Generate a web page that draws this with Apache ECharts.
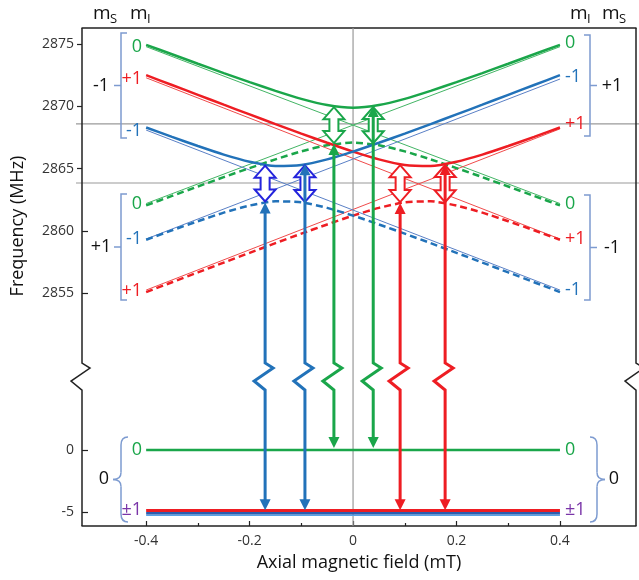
<!DOCTYPE html>
<html>
<head>
<meta charset="utf-8">
<script src="https://cdn.jsdelivr.net/npm/echarts@6/dist/echarts.min.js"></script>
<style>
  html, body { margin: 0; padding: 0; background: #fff; }
  #chart { width: 639px; height: 580px; }
</style>
</head>
<body>
<div id="chart"></div>
<script>
// ---- data ----
// uncoupled (thin) levels, frequency in MHz at x = -0.4 and x = +0.4 mT
var xEnds = [-0.4, 0.4];
var g0Minus = [2874.8, 2862.2];   // mS=-1, mI=0
var g0Plus = [2862.2, 2874.8];    // mS=+1, mI=0
var rMinus = [2872.3, 2859.35];   // mS=-1, mI=+1
var rPlus = [2855.25, 2868.2];    // mS=+1, mI=+1
var bMinus = [2868.1, 2855.25];   // mS=-1, mI=-1
var bPlus = [2859.35, 2872.2];    // mS=+1, mI=-1

// anticrossing branches (solid = upper, dashed = lower)
var fieldX = [-0.4, -0.35, -0.3, -0.25, -0.2, -0.15, -0.1, -0.05, 0, 0.05, 0.1, 0.15, 0.2, 0.25, 0.3, 0.35, 0.4];
var greenUpper = [2874.95, 2874.19, 2873.43, 2872.68, 2871.95, 2871.25, 2870.61, 2870.11, 2869.9, 2870.11, 2870.61, 2871.25, 2871.95, 2872.68, 2873.43, 2874.19, 2874.95];
var greenLower = [2862.05, 2862.81, 2863.57, 2864.32, 2865.05, 2865.75, 2866.39, 2866.89, 2867.1, 2866.89, 2866.39, 2865.75, 2865.05, 2864.32, 2863.57, 2862.81, 2862.05];
var redUpper = [2872.51, 2871.72, 2870.93, 2870.14, 2869.36, 2868.58, 2867.82, 2867.08, 2866.37, 2865.75, 2865.3, 2865.22, 2865.56, 2866.13, 2866.82, 2867.55, 2868.31];
var redLower = [2855.09, 2855.88, 2856.67, 2857.46, 2858.24, 2859.02, 2859.78, 2860.52, 2861.23, 2861.85, 2862.3, 2862.38, 2862.04, 2861.47, 2860.78, 2860.05, 2859.29];
var blueUpper = [2868.31, 2867.55, 2866.82, 2866.13, 2865.56, 2865.22, 2865.3, 2865.75, 2866.37, 2867.08, 2867.82, 2868.58, 2869.36, 2870.14, 2870.93, 2871.72, 2872.51];
var blueLower = [2859.29, 2860.05, 2860.78, 2861.47, 2862.04, 2862.38, 2862.3, 2861.85, 2861.23, 2860.52, 2859.78, 2859.02, 2858.24, 2857.46, 2856.67, 2855.88, 2855.09];

// ground state levels (mS=0)
var groundZero = 0;
var groundPm = -5;

// transitions: x position, start level, end level, colour
var transX = [-0.17, -0.093, -0.037, 0.039, 0.091, 0.178];
var transFrom = [-5, -5, 0, 0, -5, -5];
var transTo = [2862.29, 2865.35, 2866.98, 2870.03, 2862.24, 2865.37];
var transColor = ['blue', 'blue', 'green', 'green', 'red', 'red'];
// hollow double arrows between the two branches
var gapLow = [2862.29, 2862.25, 2866.98, 2866.97, 2862.24, 2862.23];
var gapHigh = [2865.32, 2865.35, 2870.02, 2870.03, 2865.36, 2865.37];

// grey guide levels
var guideLevels = [2868.6, 2863.85];

// axis ticks
var xTicks = [-0.4, -0.2, 0, 0.2, 0.4];
var xMinorTicks = [-0.3, -0.1, 0.1, 0.3];
var yTicksOut = [2865, 2870, 2875];
var yTicksIn = [2855, 2860, 0, -5];

// ---- axis break handling ----
var Y_SHIFT = 2842.4;          // upper block drawn shifted down by this
var Y_MIN = -6.1, Y_MAX = 33.9;
var X_MIN = -0.524, X_MAX = 0.547;
var BREAK_TOP = 6.99, BREAK_BOT = 4.82;
function toAxis(v) { return v > 1000 ? v - Y_SHIFT : v; }

var FONT = '"Open Sans", "DejaVu Sans", sans-serif';
var COL = {green: '#1aa64a', red: '#ee1d23', blue: '#2272b9', purple: '#7a35a8'};
var THIN = {green: '#43b565', red: '#f04b4b', blue: '#5a80c6'};
var HOLLOW = {green: '#1aa64a', red: '#ee1d23', blue: '#2424dc'};
var BRACKET = '#7d9bd0';

function pts(xs, ys) {
  return xs.map(function (x, i) { return [x, toAxis(ys[i])]; });
}

function lineSeries(xs, ys, color, width, dash, z) {
  return {
    type: 'line',
    data: pts(xs, ys),
    symbol: 'none',
    smooth: ys.length > 2 ? 0.2 : false,
    silent: true,
    z: z,
    lineStyle: {color: color, width: width, type: dash || 'solid'}
  };
}

function zigPoints(cx, yTop, yBot) {
  return [[cx, yTop], [cx + 8, yTop + 5], [cx - 11, yTop + 18], [cx, yBot]];
}

function renderTransition(params, api) {
  var x = api.value(0);
  var low = api.coord([x, api.value(1)]);
  var high = api.coord([x, api.value(2)]);
  var zt = api.coord([x, BREAK_TOP])[1];
  var zb = api.coord([x, BREAK_BOT])[1];
  var col = COL[transColor[params.dataIndex]];
  var cx = low[0];
  var yLow = low[1] - 2;
  var yHigh = high[1];
  var hl = 11, hw = 5.5;
  var line = [[cx, yHigh + hl - 1]].concat(zigPoints(cx, zt, zb)).concat([[cx, yLow - hl + 1]]);
  return {
    type: 'group',
    children: [
      {type: 'polyline', shape: {points: line}, style: {stroke: col, lineWidth: 3, fill: null}},
      {type: 'polygon', shape: {points: [[cx, yHigh], [cx - hw, yHigh + hl], [cx + hw, yHigh + hl]]}, style: {fill: col}},
      {type: 'polygon', shape: {points: [[cx, yLow], [cx - hw, yLow - hl], [cx + hw, yLow - hl]]}, style: {fill: col}}
    ]
  };
}

function renderHollow(params, api) {
  var x = api.value(0);
  var pl = api.coord([x, api.value(1)]);
  var ph = api.coord([x, api.value(2)]);
  var cx = pl[0], yt = ph[1] + 1, yb = pl[1] - 1;
  var hl = 12, hw = 10.5, sw = 4.5;
  var p = [[cx, yt], [cx + hw, yt + hl], [cx + sw, yt + hl], [cx + sw, yb - hl], [cx + hw, yb - hl],
    [cx, yb], [cx - hw, yb - hl], [cx - sw, yb - hl], [cx - sw, yt + hl], [cx - hw, yt + hl]];
  return {
    type: 'polygon',
    shape: {points: p},
    style: {fill: '#fff', stroke: HOLLOW[transColor[params.dataIndex]], lineWidth: 2}
  };
}

function renderFrame(params, api) {
  var x = api.value(0);
  var top = api.coord([x, Y_MAX]);
  var bot = api.coord([x, Y_MIN]);
  var zt = api.coord([x, BREAK_TOP])[1];
  var zb = api.coord([x, BREAK_BOT])[1];
  var p = [top].concat(zigPoints(top[0], zt, zb)).concat([bot]);
  return {type: 'polyline', shape: {points: p}, style: {stroke: '#222', lineWidth: 1.5, fill: null}};
}

function renderGuide(params, api) {
  var v = api.value(1);
  var p0 = api.coord([X_MIN, v]);
  var p1 = api.coord([X_MAX, v]);
  return {type: 'line', shape: {x1: p0[0] - 6, y1: p0[1], x2: p1[0] + 4, y2: p1[1]},
    style: {stroke: '#9a9a9a', lineWidth: 1.2}};
}

function renderZeroLine(params, api) {
  var p0 = api.coord([api.value(0), Y_MAX]);
  var p1 = api.coord([api.value(0), Y_MIN]);
  return {type: 'line', shape: {x1: p0[0], y1: p0[1], x2: p1[0], y2: p1[1]},
    style: {stroke: '#9a9a9a', lineWidth: 1.2}};
}

function renderGroundPm(params, api) {
  var p0 = api.coord([xEnds[0], api.value(1)]);
  var p1 = api.coord([xEnds[1], api.value(1)]);
  function seg(dy, color, w) {
    return {type: 'line', shape: {x1: p0[0], y1: p0[1] + dy, x2: p1[0], y2: p1[1] + dy}, style: {stroke: color, lineWidth: w}};
  }
  return {type: 'group', children: [
    seg(3, '#5aa2e6', 1.5),
    seg(1, '#2c5eae', 2.5),
    seg(-1.8, COL.red, 3)
  ]};
}

// mI labels at both ends of the uncoupled lines: [x, level, text, colour, vertical nudge]
var endLabels = [
  [xEnds[0], g0Minus[0], '0', 'green', 0],
  [xEnds[0], rMinus[0], '+1', 'red', 1],
  [xEnds[0], bMinus[0], '-1', 'blue', 1],
  [xEnds[0], g0Plus[0], '0', 'green', 0],
  [xEnds[0], bPlus[0], '-1', 'blue', 0],
  [xEnds[0], rPlus[0], '+1', 'red', 1],
  [xEnds[1], g0Plus[1], '0', 'green', -4],
  [xEnds[1], bPlus[1], '-1', 'blue', -2],
  [xEnds[1], rPlus[1], '+1', 'red', -5],
  [xEnds[1], g0Minus[1], '0', 'green', 0],
  [xEnds[1], rMinus[1], '+1', 'red', 0],
  [xEnds[1], bMinus[1], '-1', 'blue', 0],
  [xEnds[0], groundZero, '0', 'green', 0],
  [xEnds[0], groundPm, '\u00b11', 'purple', -2],
  [xEnds[1], groundZero, '0', 'green', 0],
  [xEnds[1], groundPm, '\u00b11', 'purple', -2]
];

function renderEndLabel(params, api) {
  var d = endLabels[params.dataIndex];
  var p = api.coord([api.value(0), api.value(1)]);
  var left = d[0] < 0;
  return {
    type: 'text',
    x: p[0] + (left ? -4 : 5),
    y: p[1] + d[4],
    style: {text: d[2], fill: COL[d[3]], fontSize: 18, fontFamily: FONT,
      align: left ? 'right' : 'left', verticalAlign: 'middle',
      textAlign: left ? 'right' : 'left', textVerticalAlign: 'middle'}
  };
}

function txt(x, y, text, size, color, align, rot) {
  return {type: 'text', x: x, y: y, rotation: rot || 0, z: 100,
    style: {text: text, fontSize: size, fontFamily: FONT, fill: color || '#111',
      align: align || 'center', verticalAlign: 'middle', textAlign: align || 'center', textVerticalAlign: 'middle'}};
}
// square bracket "[" (dir 1) or "]" (dir -1) with a middle tick
function squareBracket(x, y0, y1, dir) {
  var ym = (y0 + y1) / 2;
  return [
    {type: 'polyline', z: 100, shape: {points: [[x + 6 * dir, y0], [x, y0], [x, y1], [x + 6 * dir, y1]]},
      style: {stroke: BRACKET, lineWidth: 1.5, fill: null}},
    {type: 'line', z: 100, shape: {x1: x, y1: ym, x2: x - 7 * dir, y2: ym}, style: {stroke: BRACKET, lineWidth: 1.5}}
  ];
}
// curly brace "{" (dir 1) or "}" (dir -1)
function curlyBrace(x, y0, y1, dir) {
  var ym = (y0 + y1) / 2;
  function bz(ax, ay, cx1, cy1, bx, by) {
    return {type: 'bezierCurve', z: 100,
      shape: {x1: ax, y1: ay, cpx1: cx1, cpy1: cy1, x2: bx, y2: by},
      style: {stroke: BRACKET, lineWidth: 1.5, fill: null}};
  }
  function ln(ax, ay, bx, by) {
    return {type: 'line', z: 100, shape: {x1: ax, y1: ay, x2: bx, y2: by}, style: {stroke: BRACKET, lineWidth: 1.5}};
  }
  return [
    bz(x + 7 * dir, y0, x, y0, x, y0 + 8),
    ln(x, y0 + 8, x, ym - 7),
    bz(x, ym - 7, x, ym, x - 8 * dir, ym),
    bz(x - 8 * dir, ym, x, ym, x, ym + 7),
    ln(x, ym + 7, x, y1 - 8),
    bz(x, y1 - 8, x, y1, x + 7 * dir, y1)
  ];
}

var graphics = [
  txt(18, 226, 'Frequency (MHz)', 18, '#111', 'center', Math.PI / 2),
  txt(359, 563, 'Axial magnetic field (mT)', 18, '#111', 'center'),
  // header
  txt(93, 13.5, 'm', 19, '#111', 'left'), txt(110, 19, 'S', 13, '#111', 'left'),
  txt(130, 13.5, 'm', 19, '#111', 'left'), txt(147, 19, 'I', 13, '#111', 'left'),
  txt(570, 13.5, 'm', 19, '#111', 'left'), txt(587, 19, 'I', 13, '#111', 'left'),
  txt(602, 13.5, 'm', 19, '#111', 'left'), txt(619, 19, 'S', 13, '#111', 'left'),
  // mS values of each group
  txt(101, 86, '-1', 18), txt(101, 247, '+1', 18), txt(104, 479, '0', 18),
  txt(612, 86, '+1', 18), txt(612, 248, '-1', 18), txt(614, 479, '0', 18)
]
  .concat(squareBracket(121, 33, 138, 1))
  .concat(squareBracket(121, 194, 300, 1))
  .concat(squareBracket(590, 35, 136, -1))
  .concat(squareBracket(590, 195, 300, -1))
  .concat(curlyBrace(121, 437, 522, 1))
  .concat(curlyBrace(597, 437, 522, -1));

var chart = echarts.init(document.getElementById('chart'));
var option = {
  animation: false,
  backgroundColor: '#fff',
  grid: {left: 82, top: 28, width: 554, height: 498},
  xAxis: [{
    type: 'value', min: X_MIN, max: X_MAX, position: 'bottom',
    axisLine: {show: true, onZero: false, lineStyle: {color: '#222', width: 1.5}},
    axisTick: {show: true, inside: true, length: 5, customValues: xTicks, lineStyle: {color: '#222', width: 1.2}},
    axisLabel: {customValues: xTicks, margin: 8, fontSize: 14, fontFamily: FONT, color: '#333',
      formatter: function (v) { return v === 0 ? '0' : v.toFixed(1); }},
    splitLine: {show: false}
  }, {
    type: 'value', min: X_MIN, max: X_MAX, position: 'bottom',
    axisLine: {show: false, onZero: false},
    axisTick: {show: true, inside: true, length: 3, customValues: xMinorTicks, lineStyle: {color: '#222', width: 1.2}},
    axisLabel: {show: false},
    splitLine: {show: false}
  }, {
    type: 'value', min: X_MIN, max: X_MAX, position: 'top',
    axisLine: {show: true, onZero: false, lineStyle: {color: '#222', width: 1.5}},
    axisTick: {show: false}, axisLabel: {show: false}, splitLine: {show: false}
  }],
  yAxis: [{
    type: 'value', min: Y_MIN, max: Y_MAX, position: 'left',
    axisLine: {show: false, onZero: false},
    axisTick: {show: true, inside: false, length: 5, customValues: yTicksOut.map(toAxis), lineStyle: {color: '#222', width: 1.2}},
    axisLabel: {customValues: yTicksOut.concat(yTicksIn).map(toAxis), margin: 8, fontSize: 14, fontFamily: FONT, color: '#333',
      formatter: function (v) { return v > 6 ? String(Math.round(v + Y_SHIFT)) : String(Math.round(v)); }},
    splitLine: {show: false}
  }, {
    type: 'value', min: Y_MIN, max: Y_MAX, position: 'left',
    axisLine: {show: false, onZero: false},
    axisTick: {show: true, inside: true, length: 6, customValues: yTicksIn.map(toAxis), lineStyle: {color: '#222', width: 1.2}},
    axisLabel: {show: false},
    splitLine: {show: false}
  }],
  series: [
    {type: 'custom', renderItem: renderGuide, z: 1, silent: true,
      data: guideLevels.map(function (v) { return [0, toAxis(v)]; })},
    {type: 'custom', renderItem: renderZeroLine, z: 1, silent: true, data: [[0, 0]]},
    // thin uncoupled levels
    lineSeries(xEnds, g0Minus, THIN.green, 1, null, 2),
    lineSeries(xEnds, g0Plus, THIN.green, 1, null, 2),
    lineSeries(xEnds, rMinus, THIN.red, 1, null, 2),
    lineSeries(xEnds, rPlus, THIN.red, 1, null, 2),
    lineSeries(xEnds, bMinus, THIN.blue, 1, null, 2),
    lineSeries(xEnds, bPlus, THIN.blue, 1, null, 2),
    // coupled branches
    lineSeries(fieldX, greenUpper, COL.green, 2.5, null, 3),
    lineSeries(fieldX, greenLower, COL.green, 2.5, [7, 4], 3),
    lineSeries(fieldX, redUpper, COL.red, 2.5, null, 3),
    lineSeries(fieldX, redLower, COL.red, 2.5, [7, 4], 3),
    lineSeries(fieldX, blueUpper, COL.blue, 2.5, null, 3),
    lineSeries(fieldX, blueLower, COL.blue, 2.5, [7, 4], 3),
    // ground state
    lineSeries(xEnds, [groundZero, groundZero], COL.green, 2.5, null, 3),
    {type: 'custom', renderItem: renderGroundPm, z: 3, silent: true, data: [[0, groundPm]]},
    // arrows
    {type: 'custom', renderItem: renderHollow, z: 4, silent: true,
      data: transX.map(function (x, i) { return [x, toAxis(gapLow[i]), toAxis(gapHigh[i])]; })},
    {type: 'custom', renderItem: renderTransition, z: 5, silent: true,
      data: transX.map(function (x, i) { return [x, toAxis(transFrom[i]), toAxis(transTo[i])]; })},
    // frame with break marks
    {type: 'custom', renderItem: renderFrame, z: 6, silent: true, data: [[X_MIN, 0], [X_MAX, 0]]},
    // mI labels
    {type: 'custom', renderItem: renderEndLabel, z: 7, silent: true,
      data: endLabels.map(function (d) { return [d[0], toAxis(d[1])]; })}
  ],
  graphic: graphics
};
chart.setOption(option);
</script>
</body>
</html>
